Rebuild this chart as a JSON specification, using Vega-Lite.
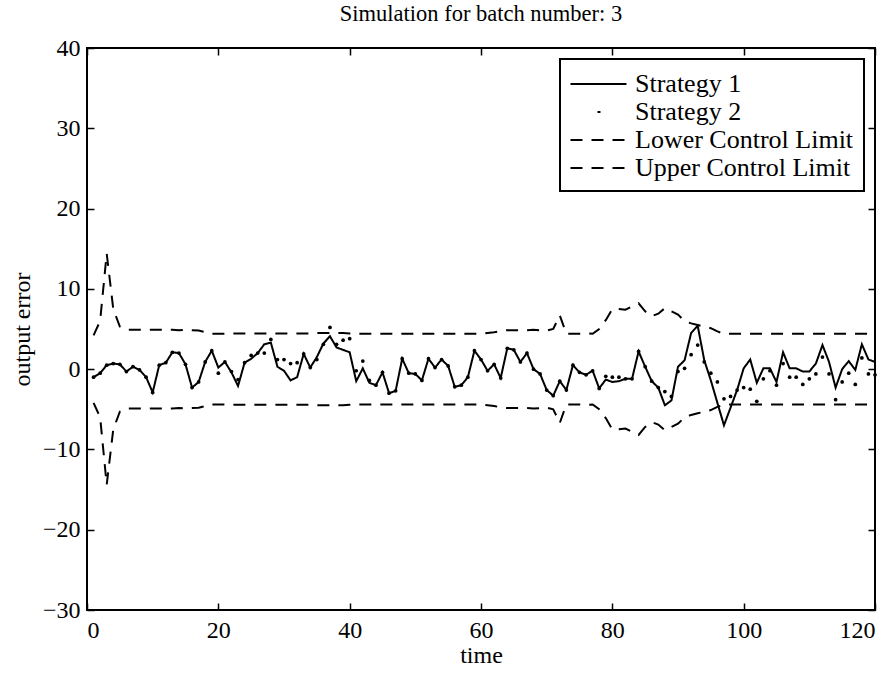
{
  "$schema": "https://vega.github.io/schema/vega-lite/v6.json",
  "width": 788,
  "height": 562,
  "autosize": {"type": "none"},
  "padding": {"left": 87, "top": 48, "right": 21, "bottom": 65},
  "title": {"text": "Simulation for batch number: 3", "font": "'Liberation Serif', 'Times New Roman', Times, 'DejaVu Serif', serif", "fontSize": 22.5, "fontWeight": "normal", "color": "black", "offset": 11, "anchor": "middle"},
  "data": {"values": [
    {"t":1,"Strategy 1":-1.0,"Strategy 2":-1.0,"Lower Control Limit":-4.2,"Upper Control Limit":4.2},
    {"t":2,"Strategy 1":-0.5,"Strategy 2":-0.5,"Lower Control Limit":-6.0,"Upper Control Limit":6.0},
    {"t":3,"Strategy 1":0.5,"Strategy 2":0.5,"Lower Control Limit":-14.4,"Upper Control Limit":14.4},
    {"t":4,"Strategy 1":0.7,"Strategy 2":0.7,"Lower Control Limit":-7.5,"Upper Control Limit":7.5},
    {"t":5,"Strategy 1":0.6,"Strategy 2":0.6,"Lower Control Limit":-5.3,"Upper Control Limit":5.3},
    {"t":6,"Strategy 1":-0.3,"Strategy 2":-0.3,"Lower Control Limit":-4.9,"Upper Control Limit":4.9},
    {"t":7,"Strategy 1":0.3,"Strategy 2":0.3,"Lower Control Limit":-4.9,"Upper Control Limit":4.9},
    {"t":8,"Strategy 1":-0.1,"Strategy 2":-0.1,"Lower Control Limit":-4.9,"Upper Control Limit":4.9},
    {"t":9,"Strategy 1":-1.0,"Strategy 2":-1.0,"Lower Control Limit":-4.9,"Upper Control Limit":4.9},
    {"t":10,"Strategy 1":-2.9,"Strategy 2":-2.9,"Lower Control Limit":-4.9,"Upper Control Limit":4.9},
    {"t":11,"Strategy 1":0.5,"Strategy 2":0.5,"Lower Control Limit":-4.9,"Upper Control Limit":4.9},
    {"t":12,"Strategy 1":0.8,"Strategy 2":0.8,"Lower Control Limit":-4.9,"Upper Control Limit":4.9},
    {"t":13,"Strategy 1":2.1,"Strategy 2":2.1,"Lower Control Limit":-4.9,"Upper Control Limit":4.9},
    {"t":14,"Strategy 1":2.0,"Strategy 2":2.0,"Lower Control Limit":-4.85,"Upper Control Limit":4.85},
    {"t":15,"Strategy 1":0.6,"Strategy 2":0.6,"Lower Control Limit":-4.9,"Upper Control Limit":4.9},
    {"t":16,"Strategy 1":-2.3,"Strategy 2":-2.3,"Lower Control Limit":-4.85,"Upper Control Limit":4.85},
    {"t":17,"Strategy 1":-1.6,"Strategy 2":-1.6,"Lower Control Limit":-4.8,"Upper Control Limit":4.8},
    {"t":18,"Strategy 1":0.9,"Strategy 2":0.9,"Lower Control Limit":-4.6,"Upper Control Limit":4.6},
    {"t":19,"Strategy 1":2.3,"Strategy 2":2.3,"Lower Control Limit":-4.4,"Upper Control Limit":4.4},
    {"t":20,"Strategy 1":0.2,"Strategy 2":-0.5,"Lower Control Limit":-4.4,"Upper Control Limit":4.4},
    {"t":21,"Strategy 1":0.9,"Strategy 2":0.9,"Lower Control Limit":-4.4,"Upper Control Limit":4.4},
    {"t":22,"Strategy 1":-0.4,"Strategy 2":-0.3,"Lower Control Limit":-4.45,"Upper Control Limit":4.45},
    {"t":23,"Strategy 1":-2.1,"Strategy 2":-1.3,"Lower Control Limit":-4.45,"Upper Control Limit":4.45},
    {"t":24,"Strategy 1":0.8,"Strategy 2":0.8,"Lower Control Limit":-4.45,"Upper Control Limit":4.45},
    {"t":25,"Strategy 1":1.3,"Strategy 2":1.7,"Lower Control Limit":-4.45,"Upper Control Limit":4.45},
    {"t":26,"Strategy 1":2.0,"Strategy 2":2.0,"Lower Control Limit":-4.45,"Upper Control Limit":4.45},
    {"t":27,"Strategy 1":3.1,"Strategy 2":2.0,"Lower Control Limit":-4.45,"Upper Control Limit":4.45},
    {"t":28,"Strategy 1":3.3,"Strategy 2":3.7,"Lower Control Limit":-4.45,"Upper Control Limit":4.45},
    {"t":29,"Strategy 1":0.3,"Strategy 2":1.2,"Lower Control Limit":-4.45,"Upper Control Limit":4.45},
    {"t":30,"Strategy 1":-0.2,"Strategy 2":1.2,"Lower Control Limit":-4.45,"Upper Control Limit":4.45},
    {"t":31,"Strategy 1":-1.4,"Strategy 2":0.7,"Lower Control Limit":-4.45,"Upper Control Limit":4.45},
    {"t":32,"Strategy 1":-1.0,"Strategy 2":0.8,"Lower Control Limit":-4.45,"Upper Control Limit":4.45},
    {"t":33,"Strategy 1":1.9,"Strategy 2":1.9,"Lower Control Limit":-4.45,"Upper Control Limit":4.45},
    {"t":34,"Strategy 1":0.2,"Strategy 2":0.2,"Lower Control Limit":-4.45,"Upper Control Limit":4.45},
    {"t":35,"Strategy 1":1.5,"Strategy 2":1.2,"Lower Control Limit":-4.5,"Upper Control Limit":4.5},
    {"t":36,"Strategy 1":3.2,"Strategy 2":3.1,"Lower Control Limit":-4.5,"Upper Control Limit":4.5},
    {"t":37,"Strategy 1":4.1,"Strategy 2":5.2,"Lower Control Limit":-4.5,"Upper Control Limit":4.5},
    {"t":38,"Strategy 1":2.7,"Strategy 2":3.1,"Lower Control Limit":-4.5,"Upper Control Limit":4.5},
    {"t":39,"Strategy 1":2.4,"Strategy 2":3.6,"Lower Control Limit":-4.5,"Upper Control Limit":4.5},
    {"t":40,"Strategy 1":2.1,"Strategy 2":3.8,"Lower Control Limit":-4.45,"Upper Control Limit":4.45},
    {"t":41,"Strategy 1":-1.5,"Strategy 2":-0.2,"Lower Control Limit":-4.4,"Upper Control Limit":4.4},
    {"t":42,"Strategy 1":0.1,"Strategy 2":1.0,"Lower Control Limit":-4.4,"Upper Control Limit":4.4},
    {"t":43,"Strategy 1":-1.7,"Strategy 2":-1.4,"Lower Control Limit":-4.4,"Upper Control Limit":4.4},
    {"t":44,"Strategy 1":-2.0,"Strategy 2":-2.0,"Lower Control Limit":-4.4,"Upper Control Limit":4.4},
    {"t":45,"Strategy 1":-0.4,"Strategy 2":-0.4,"Lower Control Limit":-4.4,"Upper Control Limit":4.4},
    {"t":46,"Strategy 1":-3.0,"Strategy 2":-3.0,"Lower Control Limit":-4.4,"Upper Control Limit":4.4},
    {"t":47,"Strategy 1":-2.7,"Strategy 2":-2.7,"Lower Control Limit":-4.4,"Upper Control Limit":4.4},
    {"t":48,"Strategy 1":1.3,"Strategy 2":1.3,"Lower Control Limit":-4.4,"Upper Control Limit":4.4},
    {"t":49,"Strategy 1":-0.5,"Strategy 2":-0.5,"Lower Control Limit":-4.4,"Upper Control Limit":4.4},
    {"t":50,"Strategy 1":-0.6,"Strategy 2":-0.6,"Lower Control Limit":-4.4,"Upper Control Limit":4.4},
    {"t":51,"Strategy 1":-1.4,"Strategy 2":-1.4,"Lower Control Limit":-4.4,"Upper Control Limit":4.4},
    {"t":52,"Strategy 1":1.3,"Strategy 2":1.3,"Lower Control Limit":-4.4,"Upper Control Limit":4.4},
    {"t":53,"Strategy 1":0.2,"Strategy 2":0.2,"Lower Control Limit":-4.4,"Upper Control Limit":4.4},
    {"t":54,"Strategy 1":1.2,"Strategy 2":1.2,"Lower Control Limit":-4.4,"Upper Control Limit":4.4},
    {"t":55,"Strategy 1":0.4,"Strategy 2":0.4,"Lower Control Limit":-4.4,"Upper Control Limit":4.4},
    {"t":56,"Strategy 1":-2.2,"Strategy 2":-2.2,"Lower Control Limit":-4.4,"Upper Control Limit":4.4},
    {"t":57,"Strategy 1":-2.0,"Strategy 2":-2.0,"Lower Control Limit":-4.4,"Upper Control Limit":4.4},
    {"t":58,"Strategy 1":-1.0,"Strategy 2":-1.0,"Lower Control Limit":-4.4,"Upper Control Limit":4.4},
    {"t":59,"Strategy 1":2.3,"Strategy 2":2.3,"Lower Control Limit":-4.4,"Upper Control Limit":4.4},
    {"t":60,"Strategy 1":1.2,"Strategy 2":1.2,"Lower Control Limit":-4.4,"Upper Control Limit":4.4},
    {"t":61,"Strategy 1":-0.2,"Strategy 2":-0.2,"Lower Control Limit":-4.5,"Upper Control Limit":4.5},
    {"t":62,"Strategy 1":0.6,"Strategy 2":0.6,"Lower Control Limit":-4.6,"Upper Control Limit":4.6},
    {"t":63,"Strategy 1":-1.1,"Strategy 2":-1.1,"Lower Control Limit":-4.75,"Upper Control Limit":4.75},
    {"t":64,"Strategy 1":2.6,"Strategy 2":2.6,"Lower Control Limit":-4.85,"Upper Control Limit":4.85},
    {"t":65,"Strategy 1":2.4,"Strategy 2":2.4,"Lower Control Limit":-4.85,"Upper Control Limit":4.85},
    {"t":66,"Strategy 1":0.9,"Strategy 2":0.9,"Lower Control Limit":-4.85,"Upper Control Limit":4.85},
    {"t":67,"Strategy 1":2.0,"Strategy 2":2.0,"Lower Control Limit":-4.85,"Upper Control Limit":4.85},
    {"t":68,"Strategy 1":0.0,"Strategy 2":0.0,"Lower Control Limit":-4.9,"Upper Control Limit":4.9},
    {"t":69,"Strategy 1":-0.6,"Strategy 2":-0.6,"Lower Control Limit":-4.85,"Upper Control Limit":4.85},
    {"t":70,"Strategy 1":-2.6,"Strategy 2":-2.6,"Lower Control Limit":-4.8,"Upper Control Limit":4.8},
    {"t":71,"Strategy 1":-3.3,"Strategy 2":-3.3,"Lower Control Limit":-5.0,"Upper Control Limit":5.0},
    {"t":72,"Strategy 1":-1.5,"Strategy 2":-1.5,"Lower Control Limit":-6.7,"Upper Control Limit":6.7},
    {"t":73,"Strategy 1":-2.6,"Strategy 2":-2.6,"Lower Control Limit":-4.4,"Upper Control Limit":4.4},
    {"t":74,"Strategy 1":0.5,"Strategy 2":0.5,"Lower Control Limit":-4.4,"Upper Control Limit":4.4},
    {"t":75,"Strategy 1":-0.4,"Strategy 2":-0.4,"Lower Control Limit":-4.4,"Upper Control Limit":4.4},
    {"t":76,"Strategy 1":-0.7,"Strategy 2":-0.7,"Lower Control Limit":-4.45,"Upper Control Limit":4.45},
    {"t":77,"Strategy 1":-0.2,"Strategy 2":-0.2,"Lower Control Limit":-4.4,"Upper Control Limit":4.4},
    {"t":78,"Strategy 1":-2.4,"Strategy 2":-2.4,"Lower Control Limit":-5.0,"Upper Control Limit":5.0},
    {"t":79,"Strategy 1":-1.3,"Strategy 2":-0.9,"Lower Control Limit":-6.1,"Upper Control Limit":6.1},
    {"t":80,"Strategy 1":-1.6,"Strategy 2":-1.0,"Lower Control Limit":-7.5,"Upper Control Limit":7.5},
    {"t":81,"Strategy 1":-1.5,"Strategy 2":-1.0,"Lower Control Limit":-7.5,"Upper Control Limit":7.5},
    {"t":82,"Strategy 1":-1.2,"Strategy 2":-1.2,"Lower Control Limit":-7.4,"Upper Control Limit":7.4},
    {"t":83,"Strategy 1":-1.2,"Strategy 2":-1.2,"Lower Control Limit":-7.8,"Upper Control Limit":7.8},
    {"t":84,"Strategy 1":2.2,"Strategy 2":2.2,"Lower Control Limit":-8.2,"Upper Control Limit":8.2},
    {"t":85,"Strategy 1":0.3,"Strategy 2":0.3,"Lower Control Limit":-7.2,"Upper Control Limit":7.2},
    {"t":86,"Strategy 1":-1.5,"Strategy 2":-1.5,"Lower Control Limit":-6.6,"Upper Control Limit":6.6},
    {"t":87,"Strategy 1":-2.3,"Strategy 2":-2.3,"Lower Control Limit":-6.9,"Upper Control Limit":6.9},
    {"t":88,"Strategy 1":-4.5,"Strategy 2":-2.8,"Lower Control Limit":-7.6,"Upper Control Limit":7.6},
    {"t":89,"Strategy 1":-3.9,"Strategy 2":-3.4,"Lower Control Limit":-7.2,"Upper Control Limit":7.2},
    {"t":90,"Strategy 1":0.3,"Strategy 2":-0.3,"Lower Control Limit":-6.8,"Upper Control Limit":6.8},
    {"t":91,"Strategy 1":1.1,"Strategy 2":0.1,"Lower Control Limit":-6.0,"Upper Control Limit":6.0},
    {"t":92,"Strategy 1":4.5,"Strategy 2":1.8,"Lower Control Limit":-5.7,"Upper Control Limit":5.7},
    {"t":93,"Strategy 1":5.4,"Strategy 2":3.0,"Lower Control Limit":-5.5,"Upper Control Limit":5.5},
    {"t":94,"Strategy 1":1.1,"Strategy 2":0.9,"Lower Control Limit":-5.3,"Upper Control Limit":5.3},
    {"t":95,"Strategy 1":-1.4,"Strategy 2":-0.5,"Lower Control Limit":-5.1,"Upper Control Limit":5.1},
    {"t":96,"Strategy 1":-4.2,"Strategy 2":-1.6,"Lower Control Limit":-4.7,"Upper Control Limit":4.7},
    {"t":97,"Strategy 1":-7.0,"Strategy 2":-3.7,"Lower Control Limit":-4.4,"Upper Control Limit":4.4},
    {"t":98,"Strategy 1":-4.8,"Strategy 2":-3.4,"Lower Control Limit":-4.4,"Upper Control Limit":4.4},
    {"t":99,"Strategy 1":-2.6,"Strategy 2":-2.6,"Lower Control Limit":-4.4,"Upper Control Limit":4.4},
    {"t":100,"Strategy 1":0.1,"Strategy 2":-2.3,"Lower Control Limit":-4.4,"Upper Control Limit":4.4},
    {"t":101,"Strategy 1":1.2,"Strategy 2":-2.5,"Lower Control Limit":-4.4,"Upper Control Limit":4.4},
    {"t":102,"Strategy 1":-1.7,"Strategy 2":-4.0,"Lower Control Limit":-4.4,"Upper Control Limit":4.4},
    {"t":103,"Strategy 1":0.1,"Strategy 2":-1.2,"Lower Control Limit":-4.4,"Upper Control Limit":4.4},
    {"t":104,"Strategy 1":0.1,"Strategy 2":-0.2,"Lower Control Limit":-4.4,"Upper Control Limit":4.4},
    {"t":105,"Strategy 1":-1.6,"Strategy 2":-2.0,"Lower Control Limit":-4.4,"Upper Control Limit":4.4},
    {"t":106,"Strategy 1":2.1,"Strategy 2":0.7,"Lower Control Limit":-4.4,"Upper Control Limit":4.4},
    {"t":107,"Strategy 1":0.1,"Strategy 2":-1.0,"Lower Control Limit":-4.4,"Upper Control Limit":4.4},
    {"t":108,"Strategy 1":0.1,"Strategy 2":-1.0,"Lower Control Limit":-4.4,"Upper Control Limit":4.4},
    {"t":109,"Strategy 1":-0.3,"Strategy 2":-1.9,"Lower Control Limit":-4.4,"Upper Control Limit":4.4},
    {"t":110,"Strategy 1":-0.3,"Strategy 2":-1.2,"Lower Control Limit":-4.4,"Upper Control Limit":4.4},
    {"t":111,"Strategy 1":0.7,"Strategy 2":-0.6,"Lower Control Limit":-4.4,"Upper Control Limit":4.4},
    {"t":112,"Strategy 1":3.0,"Strategy 2":1.5,"Lower Control Limit":-4.4,"Upper Control Limit":4.4},
    {"t":113,"Strategy 1":0.9,"Strategy 2":-0.6,"Lower Control Limit":-4.4,"Upper Control Limit":4.4},
    {"t":114,"Strategy 1":-2.3,"Strategy 2":-3.8,"Lower Control Limit":-4.4,"Upper Control Limit":4.4},
    {"t":115,"Strategy 1":0.0,"Strategy 2":-1.6,"Lower Control Limit":-4.4,"Upper Control Limit":4.4},
    {"t":116,"Strategy 1":1.0,"Strategy 2":-0.5,"Lower Control Limit":-4.4,"Upper Control Limit":4.4},
    {"t":117,"Strategy 1":-0.1,"Strategy 2":-1.9,"Lower Control Limit":-4.4,"Upper Control Limit":4.4},
    {"t":118,"Strategy 1":3.1,"Strategy 2":1.4,"Lower Control Limit":-4.4,"Upper Control Limit":4.4},
    {"t":119,"Strategy 1":1.2,"Strategy 2":-0.6,"Lower Control Limit":-4.4,"Upper Control Limit":4.4},
    {"t":120,"Strategy 1":0.9,"Strategy 2":-0.7,"Lower Control Limit":-4.5,"Upper Control Limit":4.5}
  ]},
  "transform": [{"fold": ["Strategy 1", "Strategy 2", "Lower Control Limit", "Upper Control Limit"], "as": ["series", "v"]}],
  "layer": [
    {
      "transform": [{"filter": "datum.series !== 'Strategy 2'"}],
      "mark": {"type": "line", "stroke": "black", "strokeWidth": 2},
      "encoding": {
        "x": {"field": "t", "type": "quantitative", "scale": {"domain": [0, 120], "nice": false, "zero": false},
              "axis": {"orient": "bottom", "values": [0, 20, 40, 60, 80, 100, 120], "title": "time", "labelPadding": 15, "titlePadding": 1}},
        "y": {"field": "v", "type": "quantitative", "scale": {"domain": [-30, 40], "nice": false, "zero": false},
              "axis": {"orient": "left", "values": [-30, -20, -10, 0, 10, 20, 30, 40], "title": "output error", "labelPadding": 14, "titlePadding": 8}},
        "strokeDash": {"field": "series", "type": "nominal",
              "scale": {"domain": ["Strategy 1", "Strategy 2", "Lower Control Limit", "Upper Control Limit"], "range": [[1, 0], [0, 27, 3, 100], [12, 9], [12, 9]]},
              "legend": {"title": null, "orient": "top-right", "offset": 11, "padding": 10, "strokeColor": "black", "fillColor": "white",
                         "symbolType": "M-2,0L2,0", "symbolSize": 784, "symbolOffset": 13.5, "symbolStrokeWidth": 2, "symbolStrokeColor": "black",
                         "labelFont": "'Liberation Serif', 'Times New Roman', Times, 'DejaVu Serif', serif", "labelFontSize": 26, "labelColor": "black", "labelOffset": 21.5, "rowPadding": -3, "labelLimit": 400,
                         "encode": {"legend": {"update": {"strokeWidth": {"value": 2}}}}}}
      }
    },
    {
      "transform": [{"filter": "datum.series === 'Strategy 2'"}],
      "mark": {"type": "point", "filled": true, "color": "black", "size": 14, "opacity": 1},
      "encoding": {
        "x": {"field": "t", "type": "quantitative", "scale": {"domain": [0, 120], "nice": false, "zero": false},
              "axis": {"orient": "top", "values": [0, 20, 40, 60, 80, 100, 120], "title": null, "labels": false}},
        "y": {"field": "v", "type": "quantitative", "scale": {"domain": [-30, 40], "nice": false, "zero": false},
              "axis": {"orient": "right", "values": [-30, -20, -10, 0, 10, 20, 30, 40], "title": null, "labels": false}}
      }
    }
  ],
  "resolve": {"axis": {"x": "independent", "y": "independent"}},
  "config": {
    "background": "white",
    "view": {"stroke": "black", "strokeWidth": 2},
    "axis": {"grid": false, "domain": false, "ticks": true, "tickColor": "black", "tickWidth": 1.5, "tickSize": -7,
             "labelFont": "'Liberation Serif', 'Times New Roman', Times, 'DejaVu Serif', serif", "labelFontSize": 24, "labelColor": "black",
             "titleFont": "'Liberation Serif', 'Times New Roman', Times, 'DejaVu Serif', serif", "titleFontSize": 24, "titleFontWeight": "normal", "titleColor": "black"}
  }
}
